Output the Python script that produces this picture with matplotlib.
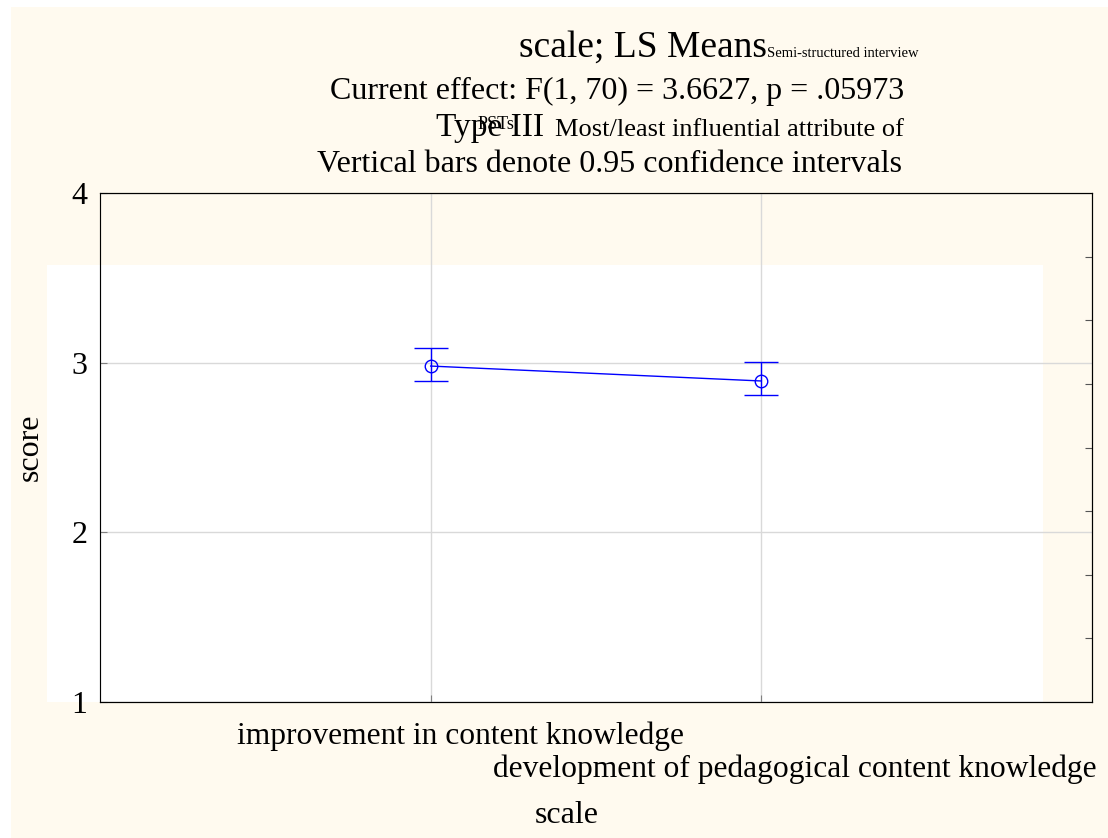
import matplotlib.pyplot as plt
from matplotlib.patches import Rectangle

plt.rcParams['font.family'] = ['Liberation Serif', 'DejaVu Serif']

categories = ['improvement in content knowledge',
              'development of pedagogical content knowledge']
means = [2.98, 2.892]
ci_low = [2.892, 2.809]
ci_high = [3.084, 3.002]

W, H = 1108, 838
cream = '#fffaef'
blue = '#0000ff'
big = 23

fig = plt.figure(figsize=(W / 100, H / 100), dpi=100)
fig.patch.set_facecolor('white')

def fx(px):
    return px / W

def fy(py):
    return 1 - py / H

# cream page and the white plot panel behind the axes
fig.patches.append(Rectangle((fx(11), 0), 1 - fx(11), fy(7), transform=fig.transFigure,
                             facecolor=cream, edgecolor='none', zorder=-10))
fig.patches.append(Rectangle((fx(47), fy(702)), fx(1043) - fx(47), fy(265) - fy(702),
                             transform=fig.transFigure, facecolor='white', edgecolor='none',
                             zorder=-9))

ax = fig.add_axes([fx(100), fy(702), fx(1092) - fx(100), fy(193) - fy(702)])
ax.set_facecolor('none')

x = list(range(1, len(means) + 1))
yerr = [[m - l for m, l in zip(means, ci_low)], [h - m for m, h in zip(means, ci_high)]]
ax.errorbar(x, means, yerr=yerr, color=blue, lw=1, elinewidth=1, capsize=12, capthick=1,
            marker='o', ms=9, mfc='none', mec=blue, mew=1)

ax.set_xlim(0, 3)
ax.set_ylim(1, 4)
ax.set_yticks([1, 2, 3, 4])
ax.set_xticks(x)
ax.set_xticklabels([])
ax.grid(True, color='#d9d9d9', lw=1)
ax.set_axisbelow(True)
ax.tick_params(axis='y', direction='in', length=5, color='#808080', labelsize=big, pad=9)
ax.tick_params(axis='x', direction='in', length=5, color='#808080')
for s in ['top', 'bottom', 'right']:
    ax.spines[s].set_color('black')
ax.spines['left'].set_color('#808080')

ax2 = ax.twinx()
ax2.set_ylim(0, 8)
ax2.set_yticks(range(1, 8))
ax2.set_yticklabels([])
ax2.tick_params(axis='y', direction='in', length=5, color='#555555')

# category labels, staggered
fig.text(fx(237), fy(736), categories[0], fontsize=22.7, ha='left', va='center')
fig.text(fx(493), fy(769), categories[1], fontsize=22.7, ha='left', va='center')
fig.text(fx(567), fy(815), 'scale', fontsize=big, ha='center', va='center')
fig.text(fx(30), fy(447), 'score', fontsize=big, ha='center', va='center', rotation=90)

# title block (right edge ~902)
fig.text(fx(767), fy(57), 'scale; LS Means', fontsize=27, ha='right', va='baseline')
fig.text(fx(767), fy(57), 'Semi-structured interview', fontsize=10.5, ha='left', va='baseline')
fig.text(fx(904), fy(99), 'Current effect: F(1, 70) = 3.6627, p = .05973', fontsize=big,
         ha='right', va='baseline')
fig.text(fx(436), fy(136), 'Type III', fontsize=big + 1, ha='left', va='baseline')
fig.text(fx(478), fy(129), 'PSTs', fontsize=13, ha='left', va='baseline')
fig.text(fx(904), fy(136), 'Most/least influential attribute of', fontsize=19, ha='right',
         va='baseline')
fig.text(fx(902), fy(172), 'Vertical bars denote 0.95 confidence intervals', fontsize=big,
         ha='right', va='baseline')

fig.savefig('out.png', dpi=100)
